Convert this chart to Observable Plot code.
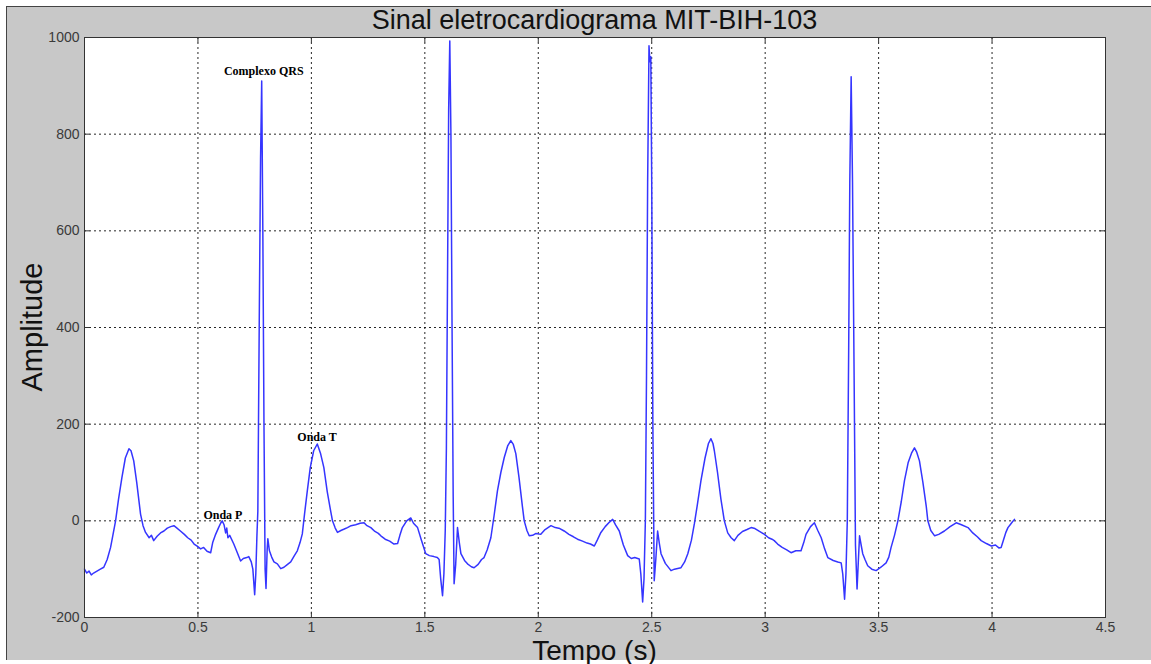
<!DOCTYPE html>
<html><head><meta charset="utf-8">
<script src="https://cdn.jsdelivr.net/npm/d3@7"></script>
<script src="https://cdn.jsdelivr.net/npm/@observablehq/plot@0.6"></script>
<style>
body{margin:0;background:#fff;width:1151px;height:664px;overflow:hidden;position:relative;font-family:"Liberation Sans",Arial,sans-serif;}
#frame{position:absolute;left:6px;top:6px;width:1145px;height:654px;background:#c8c8c8;border-left:1px solid #444;border-top:1px solid #444;box-sizing:border-box;}
#title{position:absolute;left:84px;top:6px;width:1021px;text-align:center;font-size:27px;line-height:28px;color:#111;z-index:2;}
#chart{position:absolute;left:0;top:0;z-index:1;}
#xlabel{position:absolute;left:84px;top:639px;width:1021px;text-align:center;font-size:28px;line-height:24px;color:#111;z-index:2;}
#ylabel{position:absolute;left:32px;top:327px;transform:translate(-50%,-50%) rotate(-90deg);font-size:29px;line-height:30px;color:#111;white-space:nowrap;z-index:2;}
</style></head>
<body>
<div id="frame"></div>
<div id="chart"></div>
<div id="title">Sinal eletrocardiograma MIT-BIH-103</div>
<div id="xlabel">Tempo (s)</div>
<div id="ylabel">Amplitude</div>
<script>
const xTicks = [0, 0.5, 1, 1.5, 2, 2.5, 3, 3.5, 4, 4.5];
const yTicks = [-200, 0, 200, 400, 600, 800, 1000];

const tempo = [
0.000,0.010,0.020,0.030,0.040,0.055,0.070,0.085,0.100,0.115,0.125,0.137,0.150,0.165,0.180,0.196,0.205,0.217,0.230,0.247,
0.258,0.269,0.285,0.295,0.305,0.320,0.335,0.350,0.365,0.380,0.394,0.405,0.420,0.440,0.455,0.470,0.483,0.495,0.512,0.525,
0.540,0.556,0.565,0.578,0.590,0.600,0.607,0.615,0.622,0.627,0.632,0.640,0.658,0.670,0.688,0.700,0.715,0.724,0.735,0.742,
0.750,0.755,0.760,0.764,0.770,0.776,0.781,0.786,0.791,0.796,0.800,0.805,0.808,0.815,0.825,0.835,0.850,0.865,0.879,0.895,
0.909,0.925,0.938,0.950,0.960,0.970,0.982,0.995,1.010,1.026,1.040,1.055,1.070,1.085,1.093,1.105,1.115,1.130,1.145,1.159,
1.175,1.195,1.215,1.232,1.245,1.262,1.280,1.295,1.306,1.325,1.345,1.364,1.380,1.390,1.401,1.420,1.438,1.450,1.468,1.485,
1.504,1.520,1.540,1.555,1.563,1.570,1.578,1.584,1.590,1.595,1.600,1.605,1.610,1.615,1.620,1.625,1.629,1.636,1.644,1.652,
1.659,1.675,1.688,1.705,1.717,1.735,1.750,1.761,1.775,1.791,1.805,1.820,1.835,1.850,1.865,1.879,1.890,1.901,1.915,1.930,
1.938,1.950,1.960,1.975,1.990,2.011,2.030,2.056,2.075,2.095,2.114,2.135,2.155,2.173,2.195,2.215,2.230,2.247,2.260,2.276,
2.295,2.315,2.328,2.340,2.357,2.375,2.394,2.410,2.425,2.445,2.452,2.460,2.466,2.472,2.477,2.482,2.488,2.492,2.496,2.500,
2.505,2.511,2.518,2.526,2.533,2.541,2.560,2.585,2.600,2.629,2.645,2.659,2.675,2.688,2.700,2.717,2.735,2.750,2.761,2.770,
2.776,2.790,2.805,2.820,2.835,2.850,2.864,2.880,2.900,2.920,2.938,2.955,2.975,2.997,3.015,3.030,3.040,3.055,3.075,3.095,
3.114,3.135,3.158,3.170,3.180,3.200,3.217,3.232,3.247,3.262,3.276,3.300,3.320,3.335,3.342,3.350,3.356,3.362,3.368,3.373,
3.379,3.385,3.392,3.398,3.405,3.411,3.416,3.423,3.430,3.440,3.452,3.470,3.489,3.510,3.533,3.545,3.555,3.570,3.585,3.600,
3.614,3.630,3.645,3.658,3.668,3.680,3.695,3.710,3.717,3.730,3.747,3.765,3.790,3.815,3.842,3.865,3.894,3.915,3.935,3.952,
3.975,3.997,4.015,4.030,4.040,4.050,4.060,4.070,4.080,4.090,4.099
];
const amplitude = [
-100,-108,-104,-112,-108,-104,-100,-96,-80,-55,-30,0,45,90,130,149,145,124,80,14,
-10,-24,-35,-30,-41,-32,-25,-21,-15,-12,-10,-14,-20,-28,-35,-40,-48,-52,-58,-55,
-63,-66,-45,-28,-15,-5,0,-8,-25,-15,-35,-30,-48,-62,-83,-78,-76,-74,-85,-100,
-153,-110,-30,20,400,750,910,600,200,-100,-140,-60,-37,-62,-75,-85,-89,-99,-96,-90,
-85,-72,-62,-45,-27,15,62,110,145,159,140,110,60,20,0,-15,-24,-20,-17,-14,
-10,-8,-5,-4,-10,-14,-22,-26,-31,-38,-42,-48,-47,-30,-14,0,6,-5,-14,-40,
-68,-72,-74,-76,-80,-120,-155,-110,-20,150,500,850,993,800,400,50,-130,-90,-14,-45,
-68,-82,-89,-95,-97,-90,-80,-76,-60,-35,10,62,100,131,155,166,158,139,90,30,
0,-20,-31,-30,-26,-28,-18,-10,-14,-16,-21,-28,-33,-38,-42,-46,-48,-52,-40,-24,
-12,-2,3,-8,-21,-50,-72,-78,-76,-79,-110,-168,-120,0,300,700,983,950,960,700,
200,-124,-80,-21,-45,-68,-88,-103,-100,-97,-85,-68,-40,-6,30,83,130,160,170,160,
145,100,45,0,-25,-35,-41,-30,-22,-18,-14,-16,-22,-28,-35,-38,-41,-48,-55,-60,
-66,-62,-62,-45,-28,-12,-4,-20,-35,-58,-76,-82,-85,-87,-110,-162,-110,0,350,700,
919,700,300,-50,-141,-80,-31,-50,-68,-80,-93,-100,-103,-96,-87,-75,-55,-30,0,40,
83,120,140,151,142,124,80,30,0,-20,-31,-28,-21,-12,-4,-8,-14,-25,-33,-41,
-47,-52,-50,-56,-55,-40,-25,-14,-8,-2,3
];

const noteLabels = ["Complexo QRS", "Onda T", "Onda P"];
const noteTempo = [0.79, 1.025, 0.61];
const noteAmp = [930, 174, 12];

const ecg = tempo.map((t, i) => ({t, a: amplitude[i]}));
const notes = noteLabels.map((l, i) => ({l, t: noteTempo[i], a: noteAmp[i]}));

const chart = Plot.plot({
  width: 1151,
  height: 664,
  marginLeft: 84,
  marginRight: 46,
  marginTop: 37,
  marginBottom: 47,
  style: {background: "transparent", fontFamily: "'Liberation Sans', Arial, sans-serif", fontSize: "14px", color: "#3a3a3a"},
  x: {domain: [0, 4.5]},
  y: {domain: [-200, 1000]},
  marks: [
    Plot.frame({fill: "white", stroke: null}),
    Plot.gridX(xTicks, {stroke: "#000", strokeOpacity: 0.85, strokeDasharray: "2,3"}),
    Plot.gridY(yTicks, {stroke: "#000", strokeOpacity: 0.85, strokeDasharray: "2,3"}),
    Plot.ruleX(xTicks, {y1: -200, y2: -189, stroke: "#333"}),
    Plot.ruleX(xTicks, {y1: 1000, y2: 989, stroke: "#333"}),
    Plot.ruleY(yTicks, {x1: 0, x2: 0.024, stroke: "#333"}),
    Plot.ruleY(yTicks, {x1: 4.476, x2: 4.5, stroke: "#333"}),
    Plot.line(ecg, {x: "t", y: "a", stroke: "#3535ff", strokeWidth: 1.5}),
    Plot.text(notes, {x: "t", y: "a", text: "l", fontFamily: "'Liberation Serif', 'Times New Roman', serif", fontWeight: "bold", fontSize: 12, fill: "#000"}),
    Plot.frame({stroke: "#333"}),
    Plot.axisX(xTicks, {tickSize: 0, tickPadding: 5, tickFormat: d => String(d), label: null}),
    Plot.axisY(yTicks, {tickSize: 0, tickPadding: 5, tickFormat: d => String(d), label: null})
  ]
});
document.getElementById("chart").appendChild(chart);
</script>
</body></html>
